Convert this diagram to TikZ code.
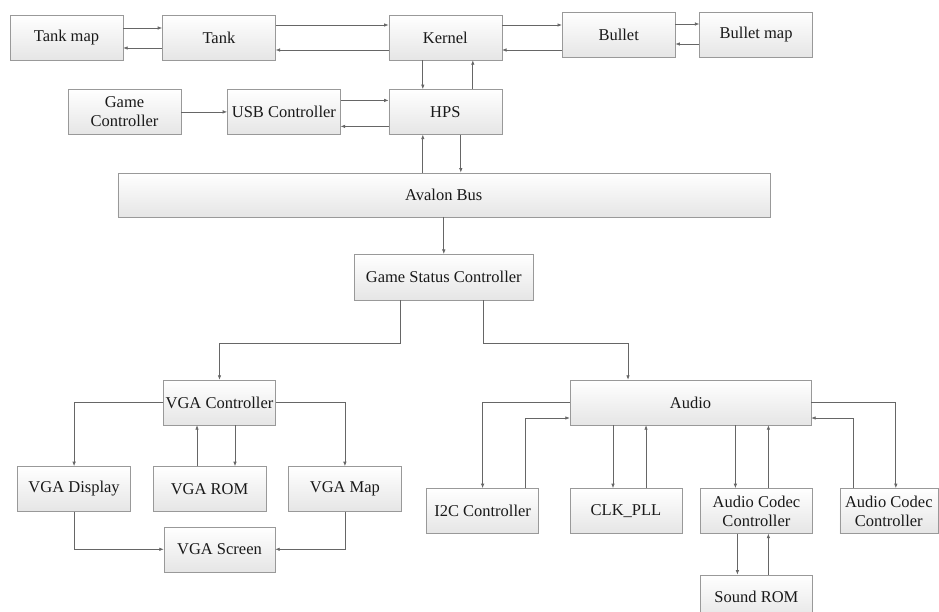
\documentclass[tikz,border=0pt]{standalone}
\usepackage{fontspec}
\setmainfont{Liberation Serif}[Ligatures=TeX]
\usepackage{tikz}
\usetikzlibrary{arrows.meta,positioning,shadows}

\tikzset{
  block/.style={draw=black!40, top color=white, bottom color=black!10,
    drop shadow={shadow xshift=0.8pt, shadow yshift=-0.8pt, opacity=0.15},
    minimum width=113pt, minimum height=45pt, inner sep=2pt, align=center,
    text=black!90, font=\rmfamily\fontsize{16.5}{19}\selectfont},
  link/.style={->, draw=black!60, line width=0.7pt},
  >={Latex[length=4.5pt,width=3.5pt]}
}

\begin{document}
\begin{tikzpicture}[x=1pt, y=-1pt]
    \clip (0,0) rectangle (939,612);
    % top row
    \node[block] (tankmap) at (66.5,37.5) {Tank map};
    \node[block] (tank) [right=39pt of tankmap] {Tank};
    \node[block] (kernel) [right=113pt of tank] {Kernel};
    \node[block] (bullet) [right=60pt of kernel, yshift=3pt] {Bullet};
    \node[block] (bulletmap) [right=24pt of bullet] {Bullet map};
    % second row
    \node[block] (hps) [below=29pt of kernel] {HPS};
    \node[block] (usb) [left=48pt of hps] {USB Controller};
    \node[block] (gamectrl) [left=46pt of usb] {Game\\Controller};
    \node[block, minimum width=652pt, minimum height=44pt] (avalon) [below=38pt of hps, xshift=-1.5pt] {Avalon Bus};
    \node[block, minimum width=179pt, minimum height=46pt] (gsc) [below=37pt of avalon] {Game Status Controller};
    % video part
    \node[block, minimum width=111pt] (vgactrl) at (219.5,402.5) {VGA Controller};
    \node[block] (vgarom) [below=41pt of vgactrl, xshift=-10pt] {VGA ROM};
    \node[block] (vgadisp) [left=22pt of vgarom] {VGA Display};
    \node[block] (vgamap) [right=22pt of vgarom] {VGA Map};
    \node[block, minimum width=111pt] (vgascreen) [below=15pt of vgarom, xshift=10pt] {VGA Screen};
    % audio part
    \node[block, minimum width=241pt] (audio) at (690.5,402.5) {Audio};
    \node[block, minimum width=112pt] (clkpll) [below=63pt of audio.south west, anchor=north west] {CLK\_PLL};
    \node[block, minimum width=112pt] (i2c) [left=31pt of clkpll] {I2C Controller};
    \node[block, minimum width=112pt] (acc1) [right=18pt of clkpll] {Audio Codec\\Controller};
    \node[block, minimum width=98pt] (acc2) [right=27pt of acc1] {Audio Codec\\Controller};
    \node[block, minimum width=112pt] (soundrom) [below=41pt of acc1] {Sound ROM};

    \draw[link] ([yshift=9.5pt]tankmap.east) -- ([yshift=9.5pt]tank.west);
    \draw[link] ([yshift=-10.5pt]tank.west) -- ([yshift=-10.5pt]tankmap.east);
    \draw[link] ([yshift=12.5pt]tank.east) -- ([yshift=12.5pt]kernel.west);
    \draw[link] ([yshift=-12.5pt]kernel.west) -- ([yshift=-12.5pt]tank.east);
    \draw[link] ([yshift=12.5pt]kernel.east) -- ([yshift=12.5pt]kernel.east -| bullet.west);
    \draw[link] ([yshift=-12.5pt]kernel.east -| bullet.west) -- ([yshift=-12.5pt]kernel.east);
    \draw[link] ([yshift=10.5pt]bullet.east) -- ([yshift=10.5pt]bulletmap.west);
    \draw[link] ([yshift=-9.5pt]bulletmap.west) -- ([yshift=-9.5pt]bullet.east);
    \draw[link] ([xshift=-22.5pt]kernel.south) -- ([xshift=-22.5pt]kernel.south |- hps.north);
    \draw[link] ([xshift=27.5pt]hps.north) -- ([xshift=27.5pt]hps.north |- kernel.south);
    \draw[link] (gamectrl.east) -- (usb.west);
    \draw[link] ([yshift=11.5pt]usb.east) -- ([yshift=11.5pt]hps.west);
    \draw[link] ([yshift=-14.5pt]hps.west) -- ([yshift=-14.5pt]usb.east);
    \draw[link] ([xshift=-22.5pt]hps.south |- avalon.north) -- ([xshift=-22.5pt]hps.south);
    \draw[link] ([xshift=15.5pt]hps.south) -- ([xshift=15.5pt]hps.south |- avalon.north);
    \draw[link] (gsc.north |- avalon.south) -- (gsc.north);
    \draw[link] ([xshift=-43.5pt]gsc.south) -- ++(0,43) -| (vgactrl.north);
    \draw[link] ([xshift=39.5pt]gsc.south) -- ++(0,43) -| ([xshift=-62.5pt]audio.north);

    \draw[link] (vgactrl.west) -| (vgadisp.north);
    \draw[link] ([xshift=-12.5pt]vgarom.north) -- ([xshift=-12.5pt]vgarom.north |- vgactrl.south);
    \draw[link] ([xshift=25.5pt]vgarom.north |- vgactrl.south) -- ([xshift=25.5pt]vgarom.north);
    \draw[link] (vgactrl.east) -| (vgamap.north);
    \draw[link] (vgadisp.south) |- (vgascreen.west);
    \draw[link] (vgamap.south) |- (vgascreen.east);

    \draw[link] (audio.west) -| (i2c.north);
    \draw[link] ([xshift=43pt]i2c.north) |- ([yshift=-15.5pt]audio.west);
    \draw[link] ([xshift=-13pt]clkpll.north |- audio.south) -- ([xshift=-13pt]clkpll.north);
    \draw[link] ([xshift=20pt]clkpll.north) -- ([xshift=20pt]clkpll.north |- audio.south);
    \draw[link] ([xshift=-21pt]acc1.north |- audio.south) -- ([xshift=-21pt]acc1.north);
    \draw[link] ([xshift=12pt]acc1.north) -- ([xshift=12pt]acc1.north |- audio.south);
    \draw[link] (audio.east) -| ([xshift=7pt]acc2.north);
    \draw[link] ([xshift=-35pt]acc2.north) |- ([yshift=-15.5pt]audio.east);
    \draw[link] ([xshift=-19pt]acc1.south) -- ([xshift=-19pt]soundrom.north);
    \draw[link] ([xshift=12pt]soundrom.north) -- ([xshift=12pt]acc1.south);
  \end{tikzpicture}
\end{document}
